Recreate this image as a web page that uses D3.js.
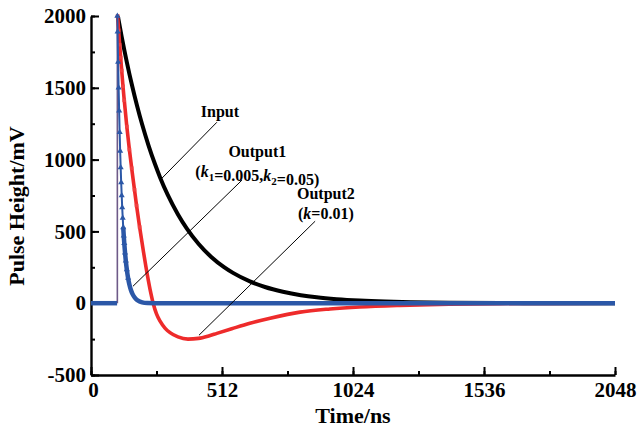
<!DOCTYPE html>
<html>
<head>
<meta charset="utf-8">
<script src="https://cdn.jsdelivr.net/npm/d3@7/dist/d3.min.js"></script>
<style>
  body { margin: 0; background: #fff; }
  text { font-family: "Liberation Serif", "Times New Roman", serif; font-weight: bold; }
</style>
</head>
<body>
<div id="chart"></div>
<script>
// values (time in ns, height in mV)
var inputT = [105, 120, 140, 160, 180, 200, 225, 250, 270, 300, 340, 374, 420, 470, 520, 555, 621, 680, 750, 820, 882, 960, 1050, 1150, 1250, 1400, 1600, 1800, 2048],
    inputV = [2000, 1855, 1679, 1519, 1375, 1244, 1098, 969, 876, 754, 618, 521, 414, 322, 251, 211, 152, 113, 80, 56, 41, 28, 18, 11, 7, 3, 1, 0, 0];

var out1T = [103, 104, 106, 108, 110, 112, 114, 116, 118, 120, 122, 124, 126, 128, 130, 133, 136, 140, 145, 150, 156, 162, 170, 180, 190, 200, 220, 250, 600, 1000, 1500, 2048],
    out1V = [2000, 1890, 1680, 1500, 1340, 1190, 1060, 945, 840, 750, 667, 594, 528, 470, 418, 352, 296, 235, 175, 130, 92, 65, 41, 22, 12, 6, 1, 0, 0, 0, 0, 0];

var out2T = [104, 108, 112, 116, 120, 125, 130, 140, 150, 159, 170, 178, 190, 204, 215, 231, 243, 256, 270, 290, 309, 340, 379, 420, 460, 492, 550, 621, 700, 817, 934, 1050, 1207, 1400, 1600, 1800, 2048],
    out2V = [2000, 1900, 1800, 1710, 1620, 1510, 1413, 1230, 1070, 940, 790, 680, 530, 370, 250, 95, 0, -75, -125, -175, -205, -235, -250, -245, -228, -210, -178, -140, -105, -62, -40, -26, -15, -7, -3, -1, 0];

// flat level before the pulse and the rising edge
var baseT = [0, 102], baseV = [0, 0];
var riseT = [103, 103], riseV = [0, 2000];

var xTicks = [0, 512, 1024, 1536, 2048],
    yTicks = [-500, 0, 500, 1000, 1500, 2000];

var width = 641, height = 434;
var x = d3.scaleLinear().domain([0, 2048]).range([91, 615]);
var y = d3.scaleLinear().domain([-500, 2000]).range([375, 16]);

var svg = d3.select("#chart").append("svg").attr("width", width).attr("height", height);

var plain = function(d) { return String(d); };

// axes, ticks pointing inwards
svg.append("g")
    .attr("transform", "translate(0,375)")
    .call(d3.axisBottom(x).tickValues(d3.range(0, 2049, 256)).tickSize(-4).tickFormat(""))
    .call(function(g) { g.select(".domain").remove(); });
svg.append("g")
    .attr("transform", "translate(91,0)")
    .call(d3.axisLeft(y).tickValues(d3.range(-500, 2001, 250)).tickSize(-4).tickFormat(""))
    .call(function(g) { g.select(".domain").remove(); });

var xAxis = svg.append("g")
    .attr("transform", "translate(0,375)")
    .call(d3.axisBottom(x).tickValues(xTicks).tickFormat(plain).tickSize(-8).tickSizeOuter(0).tickPadding(6));
var yAxis = svg.append("g")
    .attr("transform", "translate(91,0)")
    .call(d3.axisLeft(y).tickValues(yTicks).tickFormat(plain).tickSize(-8).tickSizeOuter(0).tickPadding(5));

svg.selectAll(".tick line").attr("stroke", "#000").attr("stroke-width", 2);
svg.selectAll(".domain").attr("stroke", "#000").attr("stroke-width", 2.4);
xAxis.selectAll("text").attr("font-size", 21).attr("fill", "#000").attr("dy", "0.78em");
yAxis.selectAll("text").attr("font-size", 21).attr("fill", "#000");
xAxis.select(".tick text").attr("dx", 2);

svg.append("text")
    .attr("x", 353).attr("y", 423)
    .attr("text-anchor", "middle").attr("font-size", 22)
    .text("Time/ns");
svg.append("text")
    .attr("transform", "translate(24,206) rotate(-90)")
    .attr("text-anchor", "middle").attr("font-size", 22)
    .text("Pulse Height/mV");

var line = d3.line()
    .x(function(d) { return x(d[0]); })
    .y(function(d) { return y(d[1]); })
    .curve(d3.curveMonotoneX);

function pairs(t, v) { return t.map(function(d, i) { return [d, v[i]]; }); }

var plot = svg.append("g");

plot.append("path").datum(pairs(riseT, riseV))
    .attr("d", d3.line().x(function(d) { return x(d[0]); }).y(function(d) { return y(d[1]); }))
    .attr("fill", "none").attr("stroke", "#6e5a88").attr("stroke-width", 1.6);

plot.append("path").datum(pairs(inputT, inputV))
    .attr("d", line).attr("fill", "none").attr("stroke", "#000").attr("stroke-width", 4);

plot.append("path").datum(pairs(out2T, out2V))
    .attr("d", line).attr("fill", "none").attr("stroke", "#ee2b2b").attr("stroke-width", 3.6);
plot.selectAll(".mk2").data(pairs(out2T, out2V).filter(function(d) { return d[0] < 200; }))
    .enter().append("rect").attr("class", "mk2")
    .attr("x", function(d) { return x(d[0]) - 1.8; })
    .attr("y", function(d) { return y(d[1]) - 1.8; })
    .attr("width", 3.6).attr("height", 3.6)
    .attr("fill", "#f04040");

plot.append("path").datum(pairs(baseT, baseV))
    .attr("d", line).attr("fill", "none").attr("stroke", "#2b57a7").attr("stroke-width", 4.5);
plot.append("path").datum(pairs(out1T, out1V))
    .attr("d", line).attr("fill", "none").attr("stroke", "#2b57a7").attr("stroke-width", 2);
plot.selectAll(".mk1").data(pairs(out1T, out1V).filter(function(d) { return d[0] < 150; }))
    .enter().append("path").attr("class", "mk1")
    .attr("transform", function(d) { return "translate(" + x(d[0]) + "," + y(d[1]) + ")"; })
    .attr("d", d3.symbol().type(d3.symbolTriangle).size(16))
    .attr("fill", "#2b57a7");
plot.append("path").datum(pairs(out1T, out1V).filter(function(d) { return d[0] >= 126; }))
    .attr("d", line).attr("fill", "none").attr("stroke", "#2b57a7").attr("stroke-width", 4.5);

// annotations, placed in data units
var notes = [
  { lines: ["Input"], t: 504, v: 1295, from: [492, 1260], to: [277, 870] },
  { lines: ["Output1", "(<k>1=0.005,<k>2=0.05)"], t: 650, v: 1017, from: [590, 857], to: [164, 118] },
  { lines: ["Output2", "(<k>=0.01)"], t: 918, v: 724, from: [876, 571], to: [422, -223] }
];

notes.forEach(function(n) {
  svg.append("line")
      .attr("x1", x(n.from[0])).attr("y1", y(n.from[1]))
      .attr("x2", x(n.to[0])).attr("y2", y(n.to[1]))
      .attr("stroke", "#000").attr("stroke-width", 1);
  n.lines.forEach(function(s, i) {
    var t = svg.append("text")
        .attr("x", x(n.t)).attr("y", y(n.v) + i * 20)
        .attr("text-anchor", "middle").attr("font-size", 16);
    // <k>N marks an italic k with subscript N
    var parts = s.split(/(<k>\d?)/);
    parts.forEach(function(p) {
      if (!p) return;
      if (p.indexOf("<k>") === 0) {
        t.append("tspan").attr("font-style", "italic").text("k");
        var sub = p.slice(3);
        if (sub) {
          t.append("tspan").attr("font-size", 11).attr("dy", 4).text(sub);
          t.append("tspan").attr("dy", -4).text("");
        }
      } else {
        t.append("tspan").text(p);
      }
    });
  });
});
</script>
</body>
</html>
